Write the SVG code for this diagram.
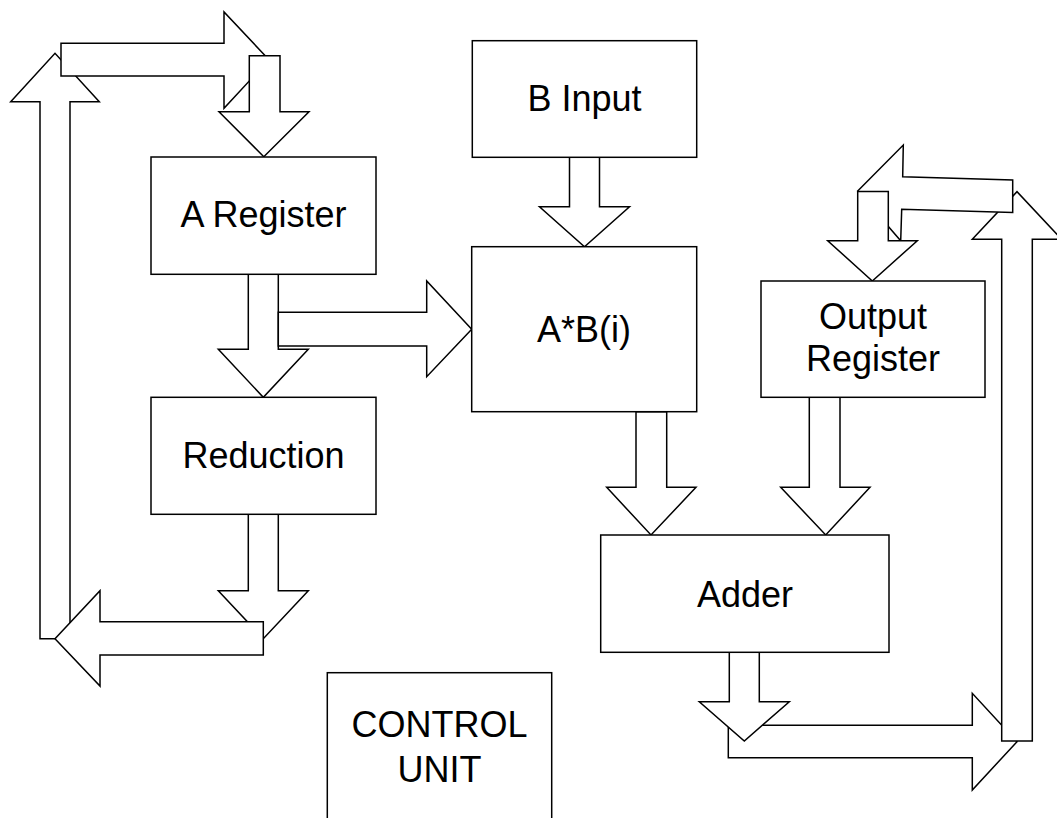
<svg xmlns="http://www.w3.org/2000/svg" width="1057" height="818" viewBox="0 0 1057 818">
  <style>
    .box { fill: #fff; stroke: #000; stroke-width: 1.5; }
    .arrow { fill: #fff; stroke: #000; stroke-width: 1.5; stroke-linejoin: miter; }
    .label { font-family: "Liberation Sans", Arial, sans-serif; font-size: 36px; fill: #000; text-anchor: middle; }
  </style>
  <rect x="0" y="0" width="1057" height="818" fill="#fff"/>

  <!-- block arrows (drawing order sets the overlaps) -->
  <g id="connectors">
    <!-- left loop: Reduction -> back up -> A Register -->
    <polygon class="arrow" points="248.3,514.3 278.3,514.3 278.3,590.7 308.3,590.7 263.3,638.7 218.3,590.7 248.3,590.7"/>
    <polygon class="arrow" points="40,638.7 40,101.7 10.7,101.7 55,53.3 99.3,101.7 70,101.7 70,638.7"/>
    <polygon class="arrow" points="263.3,621.7 100,621.7 100,590.7 55,638.7 100,686 100,655 263.3,655"/>
    <polygon class="arrow" points="61,43.3 224,43.3 224,12 269,59.7 224,108.3 224,76 61,76"/>
    <polygon class="arrow" points="249.3,55.7 280,55.7 280,111.7 309,111.7 263.8,156.7 219,111.7 249.3,111.7"/>

    <!-- A Register -> Reduction -->
    <polygon class="arrow" points="248.3,274.3 278.3,274.3 278.3,349.3 308.3,349.3 263.3,397.3 218.3,349.3 248.3,349.3"/>
    <!-- A Register -> A*B(i) -->
    <polygon class="arrow" points="278.3,312.3 426.7,312.3 426.7,281 471.7,329.3 426.7,376.7 426.7,346 278.3,346"/>
    <!-- B Input -> A*B(i) -->
    <polygon class="arrow" points="569.5,157.3 599.5,157.3 599.5,206.7 629.5,206.7 584.5,246.7 539.5,206.7 569.5,206.7"/>
    <!-- A*B(i) -> Adder -->
    <polygon class="arrow" points="636,411.7 666.7,411.7 666.7,487.3 696,487.3 651,535 606.7,487.3 636,487.3"/>
    <!-- Output Register -> Adder -->
    <polygon class="arrow" points="809.3,397.3 840,397.3 840,487.3 870,487.3 825.7,535 780.7,487.3 809.3,487.3"/>

    <!-- right loop: Adder -> back up -> Output Register -->
    <polygon class="arrow" points="728.3,725.3 972.3,725.3 972.3,693.3 1017,741.7 972.3,790 972.3,757.7 728.3,757.7"/>
    <polygon class="arrow" points="729.3,652.3 759.3,652.3 759.3,701.7 789.3,701.7 744.3,741 699.3,701.7 729.3,701.7"/>
    <polygon class="arrow" points="1001.7,741 1001.7,239.3 972.3,239.3 1017,191.7 1061.7,239.3 1032.3,239.3 1032.3,741"/>
    <polygon class="arrow" points="857.7,191 903.3,145 902.7,176.7 1012.7,180 1012.7,212.5 901.7,209.3 900.7,240.7"/>
    <polygon class="arrow" points="857.7,191.5 888.3,191.5 888.3,240.7 917.3,240.7 872.3,281 827.7,240.7 857.7,240.7"/>
  </g>

  <g id="a-register">
    <rect class="box" x="151" y="157" width="225" height="117.3"/>
    <text class="label" x="263.5" y="226.7">A Register</text>
  </g>
  <g id="reduction">
    <rect class="box" x="151" y="397.3" width="225" height="117"/>
    <text class="label" x="263.5" y="467.7">Reduction</text>
  </g>
  <g id="b-input">
    <rect class="box" x="472.3" y="40.7" width="224.4" height="116.6"/>
    <text class="label" x="584.5" y="111">B Input</text>
  </g>
  <g id="multiplier">
    <rect class="box" x="471.7" y="246.7" width="225" height="165"/>
    <text class="label" x="584" y="342">A*B(i)</text>
  </g>
  <g id="output-register">
    <rect class="box" x="761" y="281" width="224" height="116.3"/>
    <text class="label" x="873" y="329">Output</text>
    <text class="label" x="873" y="371">Register</text>
  </g>
  <g id="adder">
    <rect class="box" x="600.7" y="535" width="288.3" height="117.3"/>
    <text class="label" x="745" y="606.5">Adder</text>
  </g>
  <g id="control-unit">
    <rect class="box" x="327.3" y="672.7" width="224.4" height="160"/>
    <text class="label" x="439.5" y="736.7">CONTROL</text>
    <text class="label" x="439.5" y="781.7">UNIT</text>
  </g>
</svg>
